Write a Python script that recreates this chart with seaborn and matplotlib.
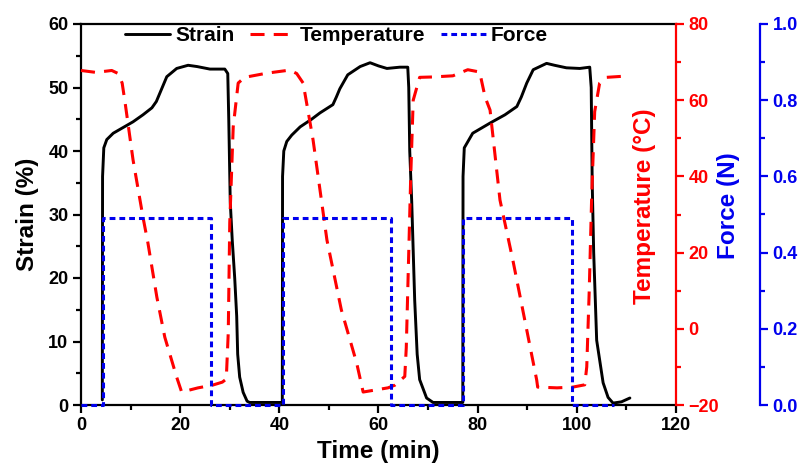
import matplotlib
matplotlib.use("Agg")
import matplotlib.pyplot as plt
import seaborn as sns
import pandas as pd
from matplotlib.lines import Line2D
from matplotlib.ticker import MultipleLocator, FormatStrFormatter

# Strain response over three shape-memory cycles
strain_time = [4.3, 4.35, 4.6, 5.2, 6.5, 8.5, 10.5, 12.5, 14.3, 15.2, 15.9, 17.3, 19.3,
               21.6, 23.4, 26.0, 29.0, 29.6, 29.8, 30.1, 30.5, 31.0, 31.4, 31.6, 32.0,
               32.7, 33.5, 34.0,
               40.6, 40.65, 40.9, 41.5, 42.5, 44.2, 46.5, 48.2, 50.8, 51.5, 52.2, 53.8,
               56.3, 58.3, 60.0, 61.7, 64.3, 65.9, 66.1, 66.3, 66.7, 67.3, 67.8, 68.3,
               69.7, 71.0, 76.9,
               77.0, 77.05, 77.3, 79.0, 82.5, 85.5, 87.9, 88.8, 89.9, 91.2, 93.9, 95.5,
               97.9, 100.6, 102.6, 102.9, 103.1, 103.4, 104.0, 105.3, 106.3, 107.3,
               109.0, 110.7]
strain_pct = [0.8, 36.0, 40.5, 41.8, 42.8, 43.7, 44.6, 45.7, 46.8, 47.8, 49.1, 51.7, 53.0,
              53.5, 53.3, 52.9, 52.9, 52.2, 45.0, 32.0, 26.0, 20.0, 14.0, 8.0, 4.4,
              2.0, 0.6, 0.4,
              0.4, 36.0, 40.0, 41.5, 42.5, 43.8, 45.0, 46.0, 47.3, 48.5, 49.8, 52.0,
              53.3, 53.9, 53.4, 53.0, 53.2, 53.2, 50.0, 40.0, 32.0, 16.5, 8.0, 4.0,
              1.1, 0.4, 0.4,
              0.4, 36.0, 40.5, 42.8, 44.4, 45.7, 47.0, 48.5, 50.7, 52.8, 53.8, 53.5,
              53.1, 53.0, 53.2, 50.0, 35.0, 24.0, 10.2, 3.5, 1.2, 0.3,
              0.5, 1.1]

# Programmed temperature
temp_time = [0.0, 3.0, 6.2, 7.5, 8.3, 8.9, 10.5, 12.5, 13.5, 15.3, 16.9, 19.3, 20.3,
             23.6, 26.5, 28.5, 29.3, 29.7, 30.0, 30.7, 31.7, 33.0, 37.5, 42.1, 43.5,
             44.8, 46.8, 49.6, 52.5, 55.6, 56.9, 61.9, 63.3, 65.3, 65.6, 66.0, 66.5,
             67.0, 68.3, 71.0, 75.0, 78.0, 80.4, 81.5, 82.5, 84.5, 87.1, 91.9, 92.1,
             96.0, 99.2, 101.6, 102.0, 102.5, 103.0, 103.6, 104.6, 106.0, 110.7]
temp_c = [67.8, 67.3, 67.8, 67.0, 64.5, 59.3, 44.3, 29.3, 22.5, 8.3, -2.2, -12.7, -16.6,
          -15.5, -14.8, -14.0, -13.2, -1.0, 27.8, 53.0, 64.5, 66.0, 67.1, 67.9, 67.0,
          64.5, 49.6, 23.3, 5.0, -9.0, -16.6, -15.5, -14.8, -12.5, -5.0, 15.0, 40.0,
          60.0, 66.0, 66.1, 66.4, 68.0, 67.4, 60.8, 57.4, 33.8, 18.0, -13.4, -15.3,
          -15.5, -15.3, -14.7, -10.0, 10.0, 35.0, 57.0, 64.5, 66.0, 66.4]

# Applied load
force_time = [0.0, 4.4, 4.4, 26.3, 26.3, 40.7, 40.7, 62.6, 62.6, 77.0, 77.0, 99.0, 99.0, 107.5]
force_n = [0.0, 0.0, 0.49, 0.49, 0.0, 0.0, 0.49, 0.49, 0.0, 0.0, 0.49, 0.49, 0.0, 0.0]

x_ticks = [0, 20, 40, 60, 80, 100, 120]

strain_df = pd.DataFrame({"Time": strain_time, "Strain": strain_pct})
temp_df = pd.DataFrame({"Time": temp_time, "Temperature": temp_c})
force_df = pd.DataFrame({"Time": force_time, "Force": force_n})

sns.set_theme(style="ticks")
plt.rcParams["font.family"] = ["Liberation Sans", "DejaVu Sans"]
plt.rcParams["font.weight"] = "bold"
plt.rcParams["axes.labelweight"] = "bold"
plt.rcParams["text.color"] = "black"
plt.rcParams["axes.labelcolor"] = "black"
plt.rcParams["xtick.color"] = "black"
plt.rcParams["ytick.color"] = "black"

RED = "#ff0000"
BLUE = "#0000ee"
LW_SPINE = 1.6

fig = plt.figure(figsize=(8.03, 4.72), dpi=100)
ax = fig.add_axes([81 / 803, 1 - 405 / 472, 595 / 803, 381 / 472])
ax2 = ax.twinx()
ax3 = ax.twinx()

sns.lineplot(data=strain_df, x="Time", y="Strain", ax=ax, sort=False, estimator=None,
             color="black", linewidth=2.1)
sns.lineplot(data=temp_df, x="Time", y="Temperature", ax=ax2, sort=False, estimator=None,
             color=RED, linewidth=2.2)
ax2.lines[0].set_dashes((4.6, 3.0))
sns.lineplot(data=force_df, x="Time", y="Force", ax=ax3, sort=False, estimator=None,
             color=BLUE, linewidth=2.2)
ax3.lines[0].set_dashes((1.9, 1.3))
for a in (ax, ax2, ax3):
    for ln in a.lines:
        ln.set_clip_on(False)

# Axis ranges and ticks
ax.set_xlim(0, 120)
ax.set_ylim(0, 60)
ax.set_xticks(x_ticks)
ax.xaxis.set_minor_locator(MultipleLocator(10))
ax.yaxis.set_major_locator(MultipleLocator(10))
ax.yaxis.set_minor_locator(MultipleLocator(5))
ax2.set_ylim(-20, 80)
ax2.yaxis.set_major_locator(MultipleLocator(20))
ax2.yaxis.set_minor_locator(MultipleLocator(10))
ax3.set_ylim(0, 1.0)
ax3.yaxis.set_major_locator(MultipleLocator(0.2))
ax3.yaxis.set_minor_locator(MultipleLocator(0.1))
ax3.yaxis.set_major_formatter(FormatStrFormatter("%.1f"))

# Spines
for s in ax.spines.values():
    s.set_linewidth(LW_SPINE)
    s.set_color("black")
ax.spines["right"].set_visible(False)
for name in ("left", "top", "bottom"):
    ax2.spines[name].set_visible(False)
    ax3.spines[name].set_visible(False)
ax2.spines["right"].set_color(RED)
ax2.spines["right"].set_linewidth(LW_SPINE)
ax3.spines["right"].set_position(("axes", (760 - 81) / 595))
ax3.spines["right"].set_color(BLUE)
ax3.spines["right"].set_linewidth(LW_SPINE)

tick_fs = 13
ax.tick_params(axis="both", which="major", direction="out", length=6, width=LW_SPINE,
               labelsize=tick_fs, pad=3, colors="black")
ax.tick_params(axis="both", which="minor", direction="out", length=3.5, width=LW_SPINE,
               colors="black")
ax2.tick_params(axis="y", which="major", direction="out", length=6, width=LW_SPINE,
                labelsize=tick_fs, pad=3, colors=RED)
ax2.tick_params(axis="y", which="minor", direction="out", length=3.5, width=LW_SPINE,
                colors=RED)
ax3.tick_params(axis="y", which="major", direction="out", length=6, width=LW_SPINE,
                labelsize=tick_fs, pad=3, colors=BLUE)
ax3.tick_params(axis="y", which="minor", direction="out", length=3.5, width=LW_SPINE,
                colors=BLUE)
for a in (ax, ax2, ax3):
    for lab in a.get_xticklabels() + a.get_yticklabels():
        lab.set_fontweight("bold")

# Axis titles
label_fs = 17.5
ax.set_xlabel("Time (min)", fontsize=label_fs, fontweight="bold", labelpad=4, color="black")
ax.set_ylabel("Strain (%)", fontsize=label_fs, fontweight="bold", labelpad=7, color="black")
ax2.set_ylabel("Temperature (\u00b0C)", fontsize=label_fs, fontweight="bold", color=RED)
ax3.set_ylabel("Force (N)", fontsize=label_fs, fontweight="bold", color=BLUE)
ax2.yaxis.set_label_coords((645 - 81) / 595, (405 - 206) / 381)
ax3.yaxis.set_label_coords((729 - 81) / 595, (405 - 206) / 381)
for lab in (ax2.yaxis.label, ax3.yaxis.label):
    lab.set_verticalalignment("center")
    lab.set_horizontalalignment("center")

# Legend
handles = [
    Line2D([], [], color="black", linewidth=2.1),
    Line2D([], [], color=RED, linewidth=2.2, dashes=(4.6, 3.0)),
    Line2D([], [], color=BLUE, linewidth=2.2, dashes=(1.9, 1.3)),
]
leg = ax3.legend(handles, ["Strain", "Temperature", "Force"], loc="upper left",
                 bbox_to_anchor=((123 - 81) / 595, 1.0), ncol=3, frameon=False,
                 fontsize=15, handlelength=2.15, handletextpad=0.25,
                 columnspacing=0.75, borderaxespad=0.0, borderpad=0.1)
for t in leg.get_texts():
    t.set_fontweight("bold")
    t.set_color("black")

fig.savefig("out.png", dpi=100)
